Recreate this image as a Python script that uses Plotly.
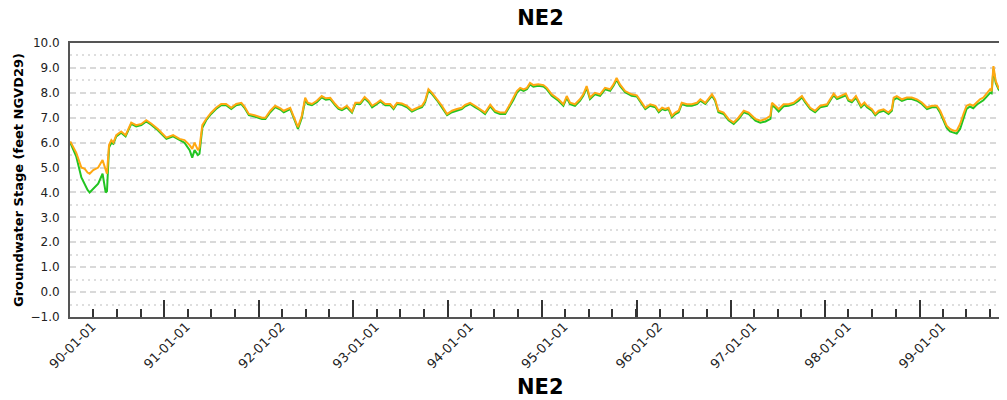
import plotly.graph_objects as go

# NE2 groundwater stage, two series (feet NGVD29)
dates = [
    "1990-01-02", "1990-01-25", "1990-02-14", "1990-02-27", "1990-03-10", "1990-03-18",
    "1990-04-01", "1990-04-20", "1990-05-07", "1990-05-19", "1990-05-24", "1990-06-01",
    "1990-06-10", "1990-06-18", "1990-06-29", "1990-07-18", "1990-08-04", "1990-08-26",
    "1990-09-14", "1990-10-04", "1990-10-23", "1990-11-11", "1990-12-07",
    "1991-01-09", "1991-02-04", "1991-03-01", "1991-03-20", "1991-04-09", "1991-04-19",
    "1991-04-28", "1991-05-11", "1991-05-17", "1991-05-28", "1991-06-12", "1991-07-01",
    "1991-07-20", "1991-08-09", "1991-08-28", "1991-09-17", "1991-10-06", "1991-10-26",
    "1991-11-07", "1991-11-24", "1991-12-16",
    "1992-01-14", "1992-01-27", "1992-02-15", "1992-03-05", "1992-03-25", "1992-04-07",
    "1992-04-26", "1992-05-02", "1992-05-19", "1992-06-01", "1992-06-16", "1992-06-29",
    "1992-07-09", "1992-07-25", "1992-08-13", "1992-09-01", "1992-09-17", "1992-10-04",
    "1992-10-23", "1992-11-05", "1992-11-18", "1992-12-07", "1992-12-27",
    "1993-01-09", "1993-01-28", "1993-02-14", "1993-03-02", "1993-03-15", "1993-04-03",
    "1993-04-16", "1993-05-05", "1993-05-24", "1993-06-06", "1993-06-19", "1993-07-08",
    "1993-07-28", "1993-08-16", "1993-09-04", "1993-09-24", "1993-10-06", "1993-10-19",
    "1993-11-02", "1993-11-21", "1993-12-10", "1993-12-30",
    "1994-01-18", "1994-02-06", "1994-02-25", "1994-03-10", "1994-03-29", "1994-04-17",
    "1994-05-07", "1994-05-26", "1994-06-15", "1994-07-04", "1994-07-23", "1994-08-12",
    "1994-08-31", "1994-09-13", "1994-09-26", "1994-10-09", "1994-10-22", "1994-11-04",
    "1994-11-16", "1994-11-29", "1994-12-18",
    "1995-01-07", "1995-01-20", "1995-02-08", "1995-03-06", "1995-03-25", "1995-04-07",
    "1995-04-20", "1995-05-09", "1995-05-28", "1995-06-10", "1995-06-23", "1995-07-06",
    "1995-07-25", "1995-08-14", "1995-09-02", "1995-09-22", "1995-10-05", "1995-10-17",
    "1995-10-30", "1995-11-19", "1995-12-14",
    "1996-01-03", "1996-01-23", "1996-02-05", "1996-02-24", "1996-03-15", "1996-03-28",
    "1996-04-10", "1996-04-22", "1996-05-05", "1996-05-18", "1996-05-31", "1996-06-13",
    "1996-06-25", "1996-07-15", "1996-08-03", "1996-08-23", "1996-09-05", "1996-09-24",
    "1996-10-20", "1996-11-01", "1996-11-14", "1996-12-04", "1996-12-23",
    "1997-01-12", "1997-01-31", "1997-02-20", "1997-03-11", "1997-03-24", "1997-04-06",
    "1997-04-25", "1997-05-15", "1997-06-03", "1997-06-09", "1997-06-22", "1997-07-05",
    "1997-07-24", "1997-08-12", "1997-09-01", "1997-09-20", "1997-10-03", "1997-10-15",
    "1997-11-04", "1997-11-23", "1997-12-13",
    "1998-01-08", "1998-01-27", "1998-02-03", "1998-02-16", "1998-02-28", "1998-03-13",
    "1998-03-22", "1998-04-01", "1998-04-14", "1998-04-30", "1998-05-10", "1998-05-20",
    "1998-06-02", "1998-06-12", "1998-07-01", "1998-07-14", "1998-07-27", "1998-08-15",
    "1998-09-03", "1998-09-16", "1998-09-23", "1998-10-05", "1998-10-25", "1998-11-13",
    "1998-12-02", "1998-12-22",
    "1999-01-10", "1999-01-30", "1999-02-18", "1999-03-09", "1999-03-22", "1999-04-04",
    "1999-04-16", "1999-04-29", "1999-05-12", "1999-05-25", "1999-06-07", "1999-06-20",
    "1999-07-02", "1999-07-15", "1999-07-28", "1999-08-10", "1999-08-23", "1999-09-05",
    "1999-09-18", "1999-10-01", "1999-10-07", "1999-10-14", "1999-10-23", "1999-11-03",
    "1999-11-16", "1999-12-05",
]

green_stage = [
    6.0, 5.45, 4.6, 4.3, 4.1, 4.0, 4.15, 4.35, 4.75, 4.0, 4.05, 5.8,
    6.0, 5.95, 6.25, 6.4, 6.25, 6.75, 6.65, 6.7, 6.85, 6.72, 6.5,
    6.15, 6.25, 6.1, 6.0, 5.7, 5.4, 5.7, 5.5, 5.55, 6.6, 6.9, 7.15,
    7.35, 7.5, 7.5, 7.35, 7.5, 7.55, 7.4, 7.1, 7.05,
    6.95, 6.95, 7.22, 7.43, 7.33, 7.22, 7.3, 7.35, 6.9, 6.55, 7.0, 7.72,
    7.55, 7.5, 7.62, 7.82, 7.72, 7.75, 7.5, 7.35, 7.3, 7.42, 7.2,
    7.55, 7.55, 7.78, 7.62, 7.42, 7.55, 7.65, 7.5, 7.5, 7.35, 7.55, 7.52,
    7.42, 7.25, 7.35, 7.42, 7.62, 8.08, 7.95, 7.7, 7.42, 7.1,
    7.22, 7.3, 7.35, 7.46, 7.55, 7.42, 7.3, 7.15, 7.46, 7.22, 7.15, 7.15,
    7.48, 7.72, 8.0, 8.14, 8.08, 8.14, 8.34, 8.25, 8.28,
    8.25, 8.14, 7.88, 7.68, 7.48, 7.8, 7.54, 7.48, 7.68, 7.88, 8.2, 7.75,
    7.94, 7.88, 8.14, 8.08, 8.28, 8.52, 8.28, 8.02, 7.88,
    7.85, 7.55, 7.35, 7.48, 7.42, 7.22, 7.35, 7.3, 7.35, 7.02, 7.15, 7.22,
    7.55, 7.48, 7.48, 7.55, 7.68, 7.55, 7.88, 7.68, 7.22, 7.15, 6.9,
    6.75, 6.95, 7.22, 7.15, 7.02, 6.88, 6.8, 6.85, 6.95, 7.5, 7.4, 7.25,
    7.46, 7.48, 7.55, 7.68, 7.82, 7.62, 7.35, 7.22, 7.42,
    7.48, 7.8, 7.9, 7.75, 7.8, 7.88, 7.9, 7.68, 7.62, 7.8, 7.62, 7.42,
    7.55, 7.42, 7.28, 7.1, 7.22, 7.28, 7.15, 7.28, 7.72, 7.8, 7.68, 7.75,
    7.75, 7.68,
    7.55, 7.35, 7.42, 7.42, 7.2, 6.88, 6.6, 6.45, 6.4, 6.36, 6.55, 6.95,
    7.35, 7.45, 7.38, 7.52, 7.62, 7.7, 7.85, 8.0, 7.98, 8.95, 8.4, 8.14,
    8.0, 7.95,
]

orange_stage = [
    6.05, 5.6, 5.0, 4.95, 4.8, 4.75, 4.9, 5.0, 5.3, 4.9, 4.75, 5.9,
    6.1, 6.0, 6.3, 6.45, 6.3, 6.8, 6.7, 6.75, 6.9, 6.77, 6.55,
    6.2, 6.3, 6.15, 6.1, 5.9, 5.75, 6.0, 5.7, 5.8, 6.7, 6.95, 7.2,
    7.4, 7.55, 7.55, 7.4, 7.55, 7.6, 7.45, 7.15, 7.1,
    7.0, 7.0, 7.28, 7.48, 7.38, 7.28, 7.35, 7.4, 6.95, 6.62, 7.08, 7.8,
    7.6, 7.55, 7.68, 7.87, 7.78, 7.8, 7.55, 7.4, 7.35, 7.48, 7.25,
    7.6, 7.6, 7.83, 7.68, 7.48, 7.6, 7.7, 7.55, 7.55, 7.4, 7.6, 7.57,
    7.48, 7.3, 7.4, 7.48, 7.68, 8.15, 8.0, 7.75, 7.48, 7.15,
    7.28, 7.35, 7.4, 7.52, 7.6, 7.48, 7.35, 7.21, 7.52, 7.28, 7.21, 7.21,
    7.55, 7.8, 8.07, 8.2, 8.14, 8.2, 8.4, 8.31, 8.34,
    8.31, 8.2, 7.94, 7.74, 7.54, 7.87, 7.6, 7.54, 7.74, 7.94, 8.27, 7.81,
    8.0, 7.94, 8.2, 8.14, 8.34, 8.6, 8.34, 8.07, 7.94,
    7.9, 7.6, 7.4, 7.54, 7.48, 7.28, 7.4, 7.35, 7.4, 7.08, 7.21, 7.28,
    7.6, 7.54, 7.54, 7.6, 7.74, 7.6, 7.94, 7.74, 7.28, 7.21, 6.95,
    6.81, 7.01, 7.28, 7.21, 7.08, 6.95, 6.88, 6.95, 7.08, 7.6, 7.48, 7.35,
    7.54, 7.54, 7.6, 7.74, 7.87, 7.68, 7.4, 7.28, 7.48,
    7.54, 7.87, 7.97, 7.81, 7.87, 7.94, 7.97, 7.74, 7.68, 7.87, 7.68, 7.48,
    7.61, 7.48, 7.34, 7.15, 7.28, 7.34, 7.21, 7.34, 7.81, 7.87, 7.74, 7.81,
    7.81, 7.74,
    7.61, 7.41, 7.48, 7.48, 7.28, 6.95, 6.68, 6.55, 6.48, 6.48, 6.75, 7.15,
    7.48, 7.54, 7.48, 7.61, 7.74, 7.81, 8.0, 8.14, 8.07, 9.07, 8.47, 8.2,
    8.07, 8.0,
]

year_ticks = ["1990-01-01", "1991-01-01", "1992-01-02", "1993-01-01", "1994-01-01",
              "1995-01-01", "1996-01-02", "1997-01-01", "1998-01-01", "1999-01-01"]
year_labels = ["90-01-01", "91-01-01", "92-01-02", "93-01-01", "94-01-01",
               "95-01-01", "96-01-02", "97-01-01", "98-01-01", "99-01-01"]

font = "DejaVu Sans"

fig = go.Figure()
fig.add_trace(go.Scatter(x=dates, y=green_stage, mode="lines",
                         line=dict(color="#22c422", width=2), name="green"))
fig.add_trace(go.Scatter(x=dates, y=orange_stage, mode="lines",
                         line=dict(color="#ffa812", width=2), name="orange"))

# page body adds an 8px offset, so margins are trimmed by 8 and the right edge runs off-page
fig.update_layout(
    width=1007, height=400,
    margin=dict(l=62, r=4, t=35, b=91),
    plot_bgcolor="white", paper_bgcolor="white",
    showlegend=False,
    font=dict(family=font, size=12, color="#222"),
    title=dict(text="NE2", x=0.5, xref="paper", y=0.975, yanchor="middle",
               automargin=False,
               font=dict(family=font, size=21, color="black", weight="bold")),
)

fig.update_xaxes(
    type="date",
    range=["1990-01-01", "1999-12-21"],
    tickmode="array", tickvals=year_ticks, ticktext=year_labels,
    tickangle=-45, ticklabelshift=22, ticklabelstandoff=-5,
    tickfont=dict(size=13),
    ticks="inside", ticklen=17, tickwidth=1.5, tickcolor="#333",
    showline=True, linecolor="#555", linewidth=2, mirror=True,
    showgrid=False, zeroline=False, automargin=False,
    minor=dict(tick0="1990-01-01", dtick="M3", ticks="inside", ticklen=8,
               tickwidth=1.5, tickcolor="#333", showgrid=False),
)

fig.update_yaxes(
    range=[-1, 10], dtick=1, tick0=0, tickformat=".1f",
    ticks="", ticklabelstandoff=6,
    showline=True, linecolor="#555", linewidth=2,
    showgrid=True, gridcolor="#d9d9d9", gridwidth=1.5, griddash="6px,4px",
    zeroline=False, automargin=False,
    minor=dict(dtick=0.5, showgrid=True, gridcolor="#dedede", gridwidth=1.5,
               griddash="2px,4px"),
    title=dict(text="Groundwater Stage (feet NGVD29)", standoff=4,
               font=dict(family=font, size=13, color="black", weight="bold")),
)

fig.add_annotation(text="NE2", xref="paper", yref="paper", x=0.5, y=-0.254,
                   yanchor="middle", showarrow=False,
                   font=dict(family=font, size=21, color="black", weight="bold"))

fig.write_html("out.html")
